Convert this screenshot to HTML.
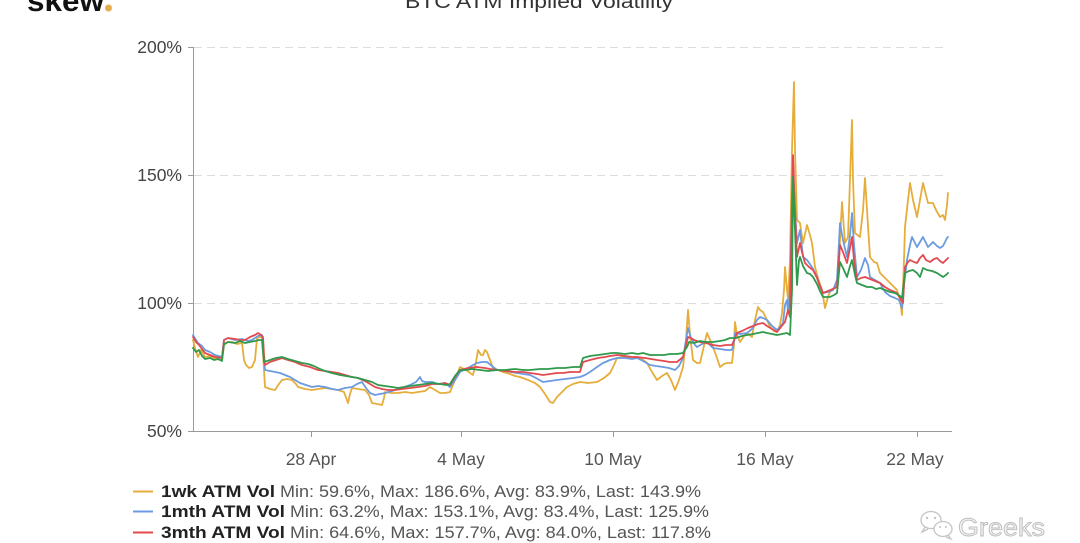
<!DOCTYPE html>
<html>
<head>
<meta charset="utf-8">
<style>
html,body{margin:0;padding:0;background:#fff;}
body{width:1080px;height:543px;overflow:hidden;}
svg{display:block;}
text{font-family:"Liberation Sans",sans-serif;}
</style>
</head>
<body>
<svg width="1080" height="543" viewBox="0 0 1080 543" xmlns="http://www.w3.org/2000/svg">
<rect width="1080" height="543" fill="#fff"/>

<!-- logo & title (cut off at top) -->
<text x="27" y="11" font-size="30" font-weight="bold" fill="#111" textLength="77" lengthAdjust="spacingAndGlyphs">skew</text>
<circle cx="108.5" cy="8" r="3.5" fill="#e2b04a"/>
<text x="405" y="8" font-size="19" fill="#333" textLength="268" lengthAdjust="spacingAndGlyphs">BTC ATM Implied Volatility</text>

<!-- gridlines -->
<g stroke="#dcdcdc" stroke-width="1" stroke-dasharray="8,5">
<line x1="194" y1="47.5" x2="948" y2="47.5"/>
<line x1="194" y1="175.5" x2="948" y2="175.5"/>
<line x1="194" y1="303.5" x2="948" y2="303.5"/>
</g>

<!-- axes -->
<g stroke="#9a9a9a" stroke-width="1" fill="none">
<line x1="193.5" y1="47" x2="193.5" y2="431"/>
<line x1="188" y1="47.5" x2="193" y2="47.5"/>
<line x1="188" y1="175.5" x2="193" y2="175.5"/>
<line x1="188" y1="303.5" x2="193" y2="303.5"/>
<line x1="188" y1="431.5" x2="952" y2="431.5"/>
<line x1="311.5" y1="431" x2="311.5" y2="437"/>
<line x1="461.5" y1="431" x2="461.5" y2="437"/>
<line x1="613.5" y1="431" x2="613.5" y2="437"/>
<line x1="765.5" y1="431" x2="765.5" y2="437"/>
<line x1="917.5" y1="431" x2="917.5" y2="437"/>
</g>

<!-- y labels -->
<g font-size="17.5" fill="#444" text-anchor="end">
<text x="182" y="53">200%</text>
<text x="182" y="181">150%</text>
<text x="182" y="309">100%</text>
<text x="182" y="437">50%</text>
</g>

<!-- x labels -->
<g font-size="17.5" fill="#555" text-anchor="middle">
<text x="311" y="465">28 Apr</text>
<text x="461" y="465">4 May</text>
<text x="613" y="465">10 May</text>
<text x="765" y="465">16 May</text>
<text x="915" y="465">22 May</text>
</g>

<!-- series -->
<g fill="none" stroke-width="1.8" stroke-linejoin="round" stroke-linecap="round">
<polyline stroke="#e6ad3b" points="193,340 195,348 198,357 201,350 205,357 210,356 215,359 222,360 224,345 228,342 232,342 237,344 242,343 244,360 246,365 249,368 252,367 255,360 257,338 260,337 262,337 264,370 265,387 270,389 275,390 279,384 282,380 287,379 292,380 296,384 298,387 305,389 312,390 318,389 325,388 332,389 338,390 344,392 348,403 350,394 352,388 358,389 365,390 369,395 372,403 377,404 382,405 384,398 385,392 392,393 398,393 405,392 412,393 418,392 425,391 430,387 435,390 440,393 445,393 450,392 455,380 460,367 466,370 473,375 476,362 478,350 481,355 483,355 485,350 487,352 490,360 493,368 498,370 503,372 510,374 515,376 520,377 528,380 535,383 540,387 545,394 550,402 553,403 557,397 562,392 567,387 573,384 580,382 588,383 597,382 604,378 610,373 614,365 617,358 625,357 632,358 637,357 642,359 647,363 652,372 657,380 662,376 667,373 671,380 675,390 679,380 683,367 686,340 688,310 690,335 693,360 697,363 700,363 703,350 707,333 710,340 713,347 717,358 720,367 724,364 727,363 732,363 734,345 735,322 737,335 740,342 744,336 747,333 752,337 755,320 758,307 760,310 763,312 767,320 770,327 774,331 777,332 780,325 782,313 784,290 785,267 787,290 788,300 790,260 792,150 794,82 795,150 797,220 800,223 803,243 807,225 810,235 812,243 815,267 818,278 822,290 825,308 828,297 830,292 834,288 838,283 840,240 842,202 845,243 848,237 850,180 852,120 853,180 855,233 860,237 863,210 865,178 867,210 870,257 874,262 877,263 880,273 884,277 887,280 892,285 897,290 900,300 902,315 904,260 905,227 908,200 910,183 913,200 917,217 920,200 923,183 926,195 928,203 933,203 936,210 940,217 943,215 945,220 947,205 948,193"/>
<polyline stroke="#6b9be0" points="193,335 196,340 198,343 202,346 205,350 210,352 215,355 222,357 224,340 228,338 235,340 242,339 248,341 252,340 258,336 262,335 264,360 265,370 270,371 275,372 280,373 285,375 290,377 295,380 300,383 306,385 312,387 318,386 325,387 332,389 338,390 345,388 352,387 357,384 362,382 366,388 370,393 375,395 380,394 385,393 392,391 398,389 402,388 410,385 416,382 420,377 422,381 425,382 432,382 438,384 445,383 450,387 455,380 460,372 468,368 473,365 477,363 482,362 487,362 492,366 497,370 505,371 511,372 517,373 523,374 530,375 536,378 543,382 550,381 557,380 565,379 573,378 580,377 585,375 590,372 597,367 603,363 610,360 617,358 625,358 632,359 637,358 643,361 650,365 656,366 663,367 669,368 675,370 679,366 683,358 686,340 688,328 691,338 695,345 697,347 702,344 707,342 710,345 713,348 720,349 726,350 732,350 734,342 735,333 740,334 747,333 752,329 757,320 760,317 763,318 767,320 772,326 777,330 780,327 783,323 785,305 787,300 788,313 790,290 792,200 793,170 795,210 797,243 800,230 803,257 807,260 812,267 817,277 820,286 823,293 828,292 833,290 837,280 840,223 843,240 847,257 850,235 852,213 854,245 857,277 861,270 865,258 868,265 870,277 875,280 880,283 885,292 890,296 895,298 899,300 902,308 904,285 907,260 910,245 912,237 915,243 917,247 920,242 923,237 926,243 928,247 931,244 933,242 937,246 940,248 943,246 945,242 947,238 948,237"/>
<polyline stroke="#e24a4f" points="193,337 196,342 199,345 202,349 205,353 210,355 215,357 222,358 224,340 228,338 235,339 240,340 245,340 250,337 255,335 258,333 261,335 263,337 264,355 265,365 270,362 276,360 282,358 288,360 295,362 302,365 310,367 318,370 325,371 332,372 338,373 345,375 352,377 358,378 365,381 370,384 375,387 382,389 388,390 395,390 402,389 410,388 418,387 425,386 432,384 440,384 445,383 450,385 455,377 460,370 468,368 477,367 485,368 490,369 497,370 505,371 515,372 523,372 530,373 537,374 543,375 550,374 557,373 563,373 570,372 575,372 580,372 583,362 590,360 598,358 605,357 610,356 617,355 625,356 632,357 637,357 645,358 651,359 657,360 664,361 670,362 677,362 683,357 686,345 688,337 691,338 694,340 700,342 706,343 713,345 720,346 726,345 732,345 735,338 737,333 742,331 748,328 753,326 758,324 763,323 767,326 772,329 777,332 781,327 785,322 788,310 790,317 792,200 793,155 795,210 797,257 800,243 802,252 805,263 809,267 813,270 817,278 820,286 823,293 828,291 833,289 837,287 840,245 843,252 847,263 850,248 852,237 854,260 857,280 861,278 865,277 870,279 875,281 880,283 885,287 890,290 895,292 897,293 900,298 903,303 905,267 908,262 910,260 914,262 917,263 920,258 923,255 926,260 930,262 934,259 937,258 940,261 943,263 946,260 948,258"/>
<polyline stroke="#2f9a4c" points="193,348 196,352 199,350 202,356 205,359 210,358 214,360 218,359 222,361 224,344 228,342 235,343 240,341 245,343 250,342 255,341 259,340 262,340 264,362 270,360 276,358 282,357 288,359 295,361 302,363 308,364 314,366 320,369 325,371 332,373 340,375 346,376 352,377 358,378 365,380 372,382 378,385 385,386 392,387 398,388 404,387 410,386 418,385 425,384 432,383 440,384 446,385 450,384 455,376 460,370 466,370 472,369 480,370 488,371 497,370 505,370 515,369 523,370 530,370 540,369 548,369 557,368 565,368 573,367 580,367 583,358 590,356 598,355 605,354 612,353 617,353 625,354 632,353 638,354 643,353 650,355 657,355 664,355 670,354 677,354 683,353 687,347 689,342 694,343 700,341 706,342 713,342 720,341 725,340 730,338 736,338 742,336 747,335 753,334 758,333 763,332 767,333 772,334 777,335 782,334 787,333 790,335 792,290 793,177 795,230 797,285 799,260 800,257 803,266 807,273 810,274 813,277 817,284 820,291 823,297 827,297 830,297 834,295 837,293 840,262 843,268 847,277 850,266 852,260 855,275 857,283 862,285 867,287 872,287 876,289 880,288 885,290 890,292 895,293 900,296 902,298 904,280 905,273 909,271 913,270 917,273 920,277 923,268 927,270 932,271 937,273 940,275 943,277 946,275 948,273"/>
</g>

<!-- legend -->
<g stroke-width="2">
<line x1="133" y1="491.5" x2="153" y2="491.5" stroke="#e6ad3b"/>
<line x1="133" y1="511.5" x2="153" y2="511.5" stroke="#6b9be0"/>
<line x1="133" y1="532.5" x2="153" y2="532.5" stroke="#e24a4f"/>
</g>
<g font-size="17">
<text x="161" y="497" font-weight="bold" fill="#222" textLength="114" lengthAdjust="spacingAndGlyphs">1wk ATM Vol</text>
<text x="280" y="497" fill="#555" textLength="421" lengthAdjust="spacingAndGlyphs">Min: 59.6%, Max: 186.6%, Avg: 83.9%, Last: 143.9%</text>
<text x="161" y="517" font-weight="bold" fill="#222" textLength="124" lengthAdjust="spacingAndGlyphs">1mth ATM Vol</text>
<text x="290" y="517" fill="#555" textLength="419" lengthAdjust="spacingAndGlyphs">Min: 63.2%, Max: 153.1%, Avg: 83.4%, Last: 125.9%</text>
<text x="161" y="538" font-weight="bold" fill="#222" textLength="124" lengthAdjust="spacingAndGlyphs">3mth ATM Vol</text>
<text x="290" y="538" fill="#555" textLength="421" lengthAdjust="spacingAndGlyphs">Min: 64.6%, Max: 157.7%, Avg: 84.0%, Last: 117.8%</text>
</g>

<!-- watermark -->
<g fill="none" stroke="#c4c4c4" stroke-width="1.3">
<ellipse cx="931" cy="520" rx="10" ry="8.5"/>
<path d="M925,527 l-3,5 l6,-3"/>
<ellipse cx="943" cy="529" rx="9" ry="7.5" fill="#fff"/>
<path d="M948,535 l3,4 l-5,-2"/>
</g>
<g fill="#c4c4c4">
<circle cx="927" cy="518" r="1.2"/>
<circle cx="935" cy="518" r="1.2"/>
<circle cx="940" cy="527" r="1"/>
<circle cx="946" cy="527" r="1"/>
</g>
<text x="958" y="536" font-size="25" fill="#f4f4f4" stroke="#bdbdbd" stroke-width="0.9" textLength="87" lengthAdjust="spacingAndGlyphs">Greeks</text>
</svg>
</body>
</html>
